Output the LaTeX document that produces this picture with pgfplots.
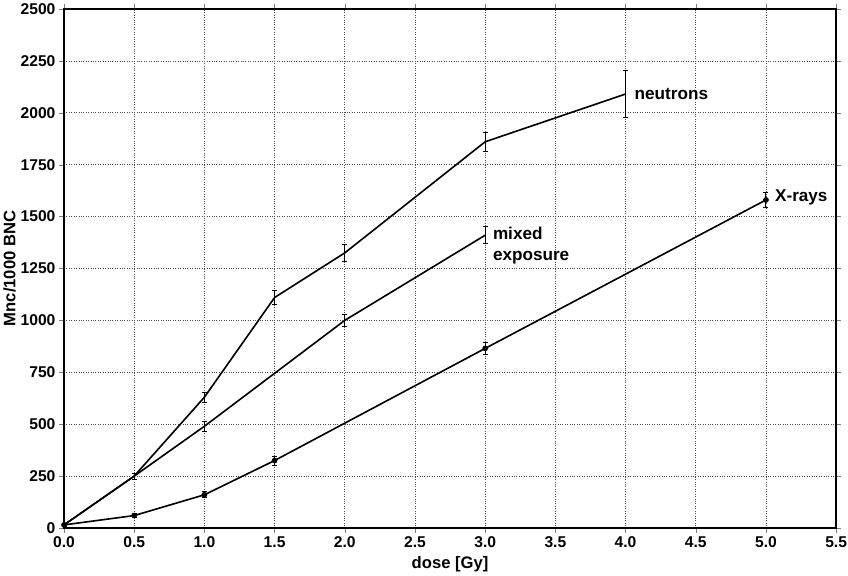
\documentclass[border=0pt]{standalone}
\usepackage{fontspec}
\setmainfont{Liberation Sans}
\usepackage{pgfplots}
\pgfplotsset{compat=1.18}

\begin{document}
\begin{tikzpicture}
\begin{axis}[
    scale only axis,
    width=766pt, height=515pt,
    xmin=0, xmax=5.5, ymin=0, ymax=2500,
    xtick={0,0.5,1,1.5,2,2.5,3,3.5,4,4.5,5,5.5},
    xticklabels={0.0,0.5,1.0,1.5,2.0,2.5,3.0,3.5,4.0,4.5,5.0,5.5},
    ytick={0,250,500,750,1000,1250,1500,1750,2000,2250,2500},
    yticklabels={0,250,500,750,1000,1250,1500,1750,2000,2250,2500},
    font=\fontsize{16.5}{19}\selectfont\bfseries,
    tick label style={font=\fontsize{15.5}{18}\selectfont\bfseries},
    xticklabel style={inner xsep=1pt},
    xlabel style={yshift=-2pt},
    ylabel style={yshift=-2pt},
    tick align=outside,
    major tick length=5pt,
    axis line style={line width=1.3pt},
    grid=major,
    major grid style={dotted, black!70, line width=0.6pt},
    xlabel={dose [Gy]},
    ylabel={Mnc/1000 BNC},
    error bars/error bar style={line width=0.9pt},
    error bars/error mark options={rotate=90, mark size=2.5pt, line width=0.9pt},
]
% neutrons
\addplot[black, line width=1.6pt, mark=none, error bars/.cd, y dir=both, y explicit] coordinates {
    (0,15) +- (0,8)
    (0.5,250) +- (0,15)
    (1.0,630) +- (0,25)
    (1.5,1110) +- (0,35)
    (2.0,1325) +- (0,40)
    (3.0,1860) +- (0,45)
    (4.0,2090) +- (0,115)
};
% mixed exposure
\addplot[black, line width=1.6pt, mark=none, error bars/.cd, y dir=both, y explicit] coordinates {
    (0,15) +- (0,8)
    (0.5,250) +- (0,15)
    (1.0,490) +- (0,25)
    (2.0,1000) +- (0,30)
    (3.0,1410) +- (0,40)
};
% X-rays
\addplot[black, line width=1.6pt, mark=*, mark size=2pt, mark options={solid, fill=black}, error bars/.cd, y dir=both, y explicit] coordinates {
    (0,15) +- (0,8)
    (0.5,60) +- (0,10)
    (1.0,160) +- (0,15)
    (1.5,325) +- (0,22)
    (3.0,865) +- (0,28)
    (5.0,1580) +- (0,35)
};
\node[anchor=west, font=\fontsize{17}{20}\selectfont\bfseries] at (axis cs:4.04,2090) {neutrons};
\node[anchor=west, align=left, inner sep=2pt, font=\fontsize{17}{20}\selectfont\bfseries] at (axis cs:3.04,1360) {mixed\\exposure};
\node[anchor=west, font=\fontsize{17}{20}\selectfont\bfseries] at (axis cs:5.04,1590) {X-rays};
\end{axis}
\end{tikzpicture}
\end{document}
